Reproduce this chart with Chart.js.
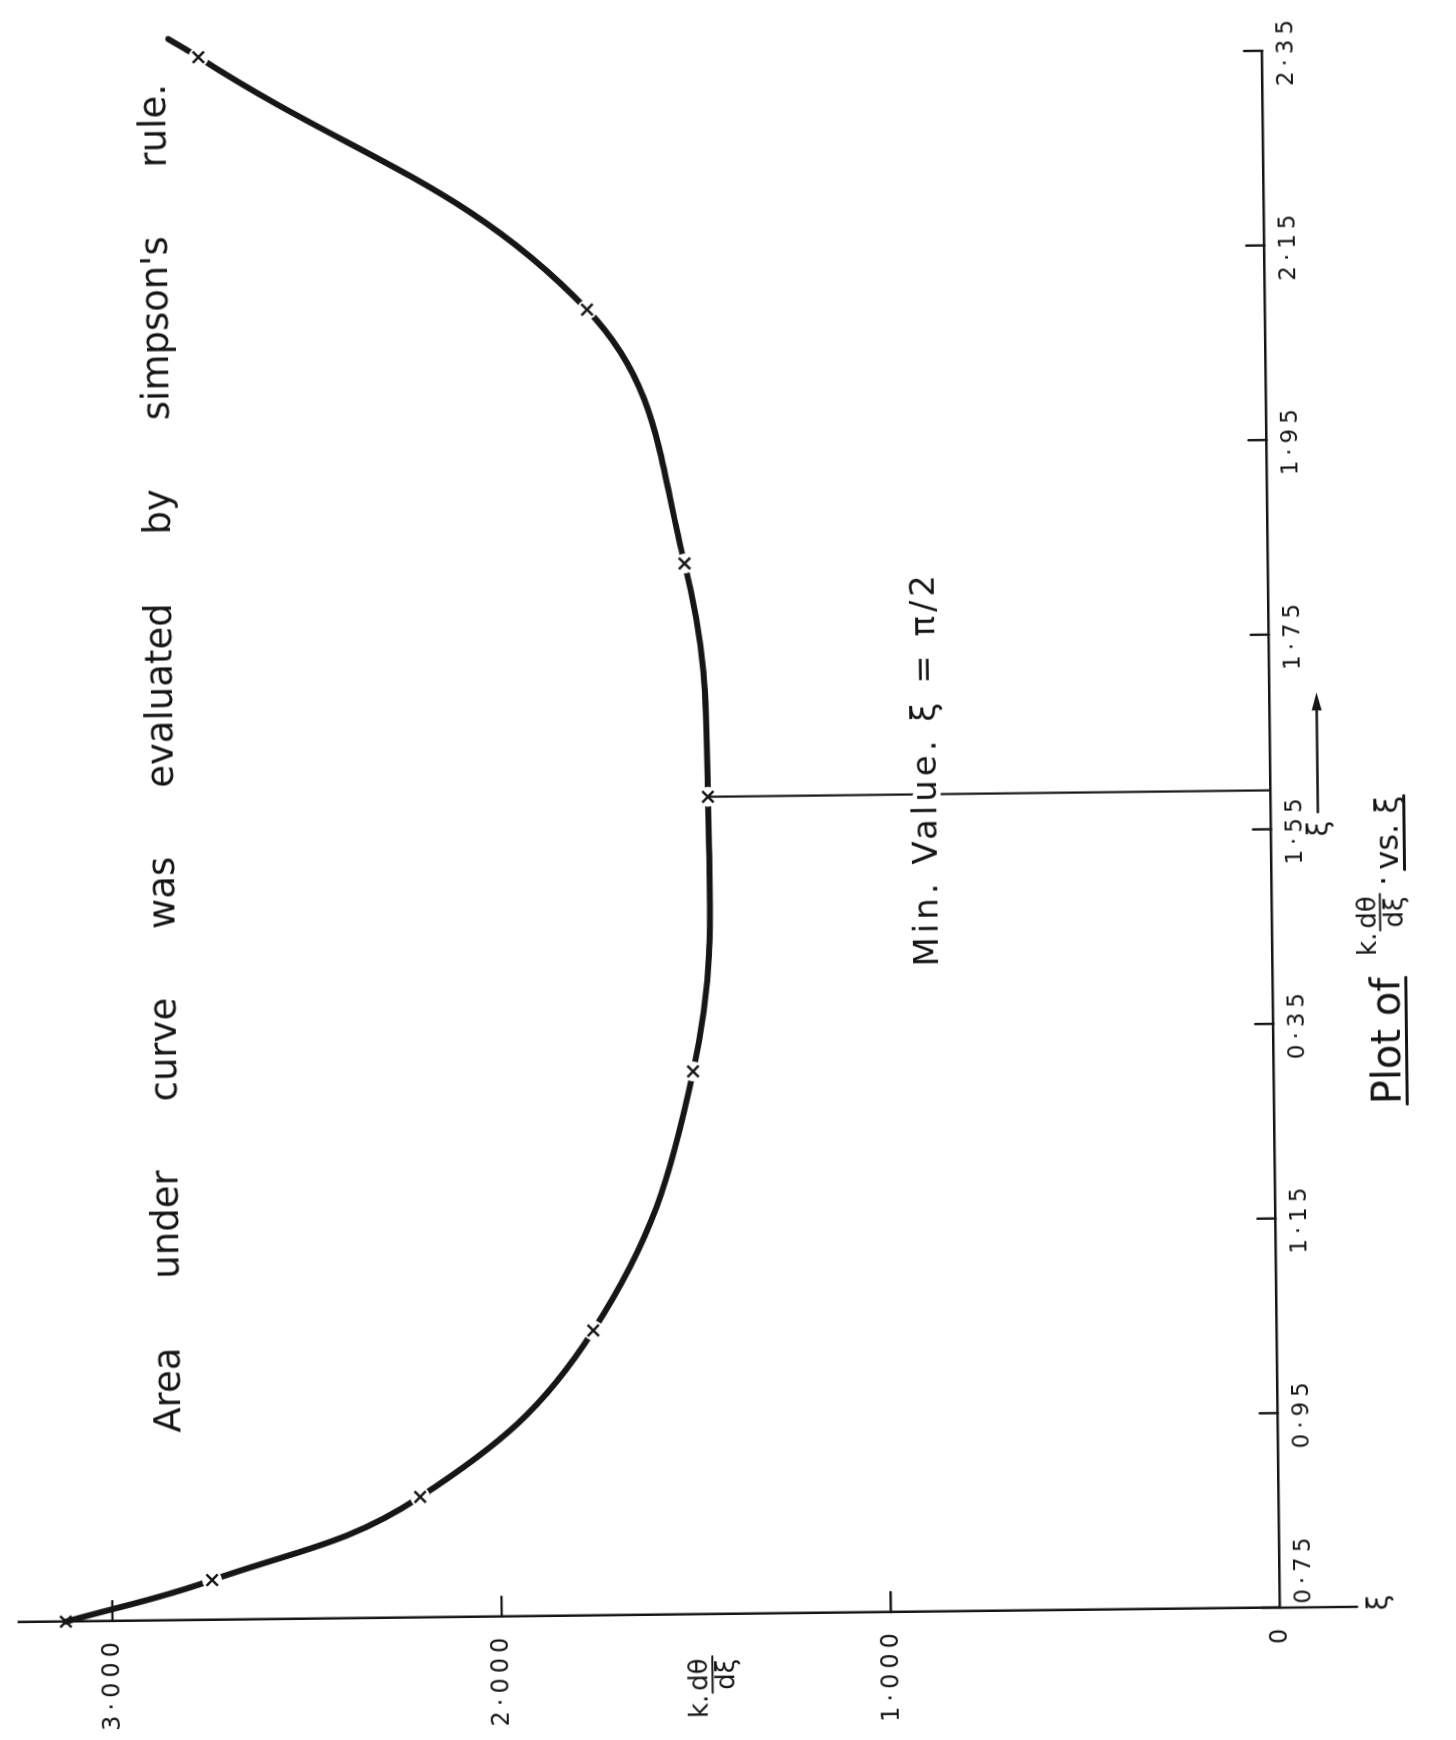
<!DOCTYPE html>
<html>
<head>
<meta charset="utf-8">
<title>Plot of k.dθ/dξ vs. ξ</title>
<script src="https://cdn.jsdelivr.net/npm/chart.js@4.4.1/dist/chart.umd.min.js"></script>
<style>
  html, body { margin:0; padding:0; background:#fff; width:1456px; height:1740px; overflow:hidden; }
  #page { position:absolute; left:-142px; top:142px; width:1740px; height:1456px;
          transform:rotate(-90.66deg); transform-origin:870px 728px; background:#fff; }
  #chart { display:block; }
</style>
</head>
<body>
<div id="page"><canvas id="chart" width="1740" height="1456"></canvas></div>
<script>
// ξ and k·dθ/dξ (last point = end of the pen stroke, no cross)
const xiValues  = [0.75, 0.791, 0.874, 1.043, 1.308, 1.59, 1.83, 2.092, 2.356, 2.375];
const kValues   = [3.12, 2.743, 2.206, 1.756, 1.492, 1.446, 1.499, 1.742, 2.733, 2.81];
const plotted   = [true, true, true, true, true, true, true, true, true, false];
// vertical line from the minimum down to the ξ axis
const minLineXi = [1.59, 1.59];
const minLineK  = [1.446, 0];
// axis ticks as written on the sheet
const xMin = 0.75, xMax = 2.35, yMin = 0, yMax = 3.24;
const xTickValues = [0.75, 0.95, 1.15, 1.35, 1.55, 1.75, 1.95, 2.15, 2.35];
const xTickLabels = ['\u2007\u2007\u2007\u20070·75', '0·95', '1·15', '0·35', '1·55', '1·75', '1·95', '2·15', '2·35'];
const yTickValues = [0, 1, 2, 3];
const yTickLabels = ['0', '1·000', '2·000', '3·000'];
// texts
const noteArea = "Area under curve was evaluated by simpson's rule.";
const noteMin  = 'Min. Value. ξ = π/2';

// where the notes sit, in data units
const areaStartXi = 0.943, areaEndXi = 2.329, areaBaseK = 2.82;
const minNoteXi = 1.413, minNoteK = 0.86;
const titleStartXi = 1.266;
const arrowLabelXi = 1.55, arrowFromXi = 1.567, arrowToXi = 1.69;
const yTitleK = 1.46;

const ink = '#161616';
const FONT = '"DejaVu Sans", "Liberation Sans", sans-serif';

const curvePts  = xiValues.map((v, i) => ({ x: v, y: kValues[i] }));
const markerPts = curvePts.filter((p, i) => plotted[i]);
const gapPts    = markerPts.slice(1);          // first cross sits on the axis line
const minPts    = minLineXi.map((v, i) => ({ x: v, y: minLineK[i] }));

function kFrac(ctx, left, barY, size, draw) {
  ctx.font = size + 'px ' + FONT;
  ctx.textAlign = 'left'; ctx.textBaseline = 'alphabetic';
  const kw = ctx.measureText('k.').width;
  const nw = ctx.measureText('dθ').width, dw = ctx.measureText('dξ').width;
  const fw = Math.max(nw, dw) + 4;
  const fl = left + kw + 2;
  if (draw) {
    ctx.fillText('k.', left, barY - 5);
    ctx.fillText('dθ', fl + (fw - nw) / 2, barY - 5);
    ctx.fillText('dξ', fl + (fw - dw) / 2, barY + size * 0.85);
    ctx.lineWidth = 2.2;
    ctx.beginPath(); ctx.moveTo(fl, barY); ctx.lineTo(fl + fw, barY); ctx.stroke();
  }
  return kw + 2 + fw;
}

const notes = {
  id: 'notes',
  beforeDraw(chart) { chart.ctx.letterSpacing = '5px'; },
  beforeDatasetsDraw(chart) { chart.ctx.letterSpacing = '0px'; },
  afterDraw(chart) {
    const { ctx, chartArea: a, scales: { x, y } } = chart;
    ctx.save();
    ctx.letterSpacing = '0px';
    ctx.strokeStyle = ink; ctx.fillStyle = ink; ctx.lineCap = 'round'; ctx.lineWidth = 2.4;
    const seg = (x1, y1, x2, y2) => { ctx.beginPath(); ctx.moveTo(x1, y1); ctx.lineTo(x2, y2); ctx.stroke(); };

    // tick marks pointing into the plot
    xTickValues.forEach(v => { const px = x.getPixelForValue(v); seg(px, a.bottom, px, a.bottom - 18); });
    yTickValues.forEach(v => { if (v === 0) return; const py = y.getPixelForValue(v); seg(a.left, py, a.left + 20, py); });

    // value axis runs past the origin and ends in ξ
    seg(a.left, a.bottom, a.left, a.bottom + 77);
    ctx.font = '28px ' + FONT; ctx.textAlign = 'center'; ctx.textBaseline = 'middle';
    ctx.fillText('ξ', a.left + 4, a.bottom + 100);

    // note across the top
    ctx.font = '37px ' + FONT; ctx.textAlign = 'left'; ctx.textBaseline = 'alphabetic';
    const words = noteArea.split(' ');
    const ax0 = x.getPixelForValue(areaStartXi), ax1 = x.getPixelForValue(areaEndXi);
    const ws = words.map(w => ctx.measureText(w).width);
    const gap = (ax1 - ax0 - ws.reduce((s, w) => s + w, 0)) / (words.length - 1);
    const ay = y.getPixelForValue(areaBaseK);
    let cx = ax0;
    words.forEach((w, i) => { ctx.fillText(w, cx, ay); cx += ws[i] + gap; });

    // minimum note (breaks the line where it crosses)
    ctx.font = '34px ' + FONT;
    ctx.letterSpacing = '4px';
    const mx = x.getPixelForValue(minNoteXi), my = y.getPixelForValue(minNoteK);
    ctx.save();
    ctx.lineWidth = 9; ctx.strokeStyle = '#fff'; ctx.lineJoin = 'round';
    ctx.strokeText(noteMin, mx, my);
    ctx.restore();
    ctx.fillText(noteMin, mx, my);
    ctx.letterSpacing = '0px';

    // y-axis name, as a fraction among the tick labels
    const fy = y.getPixelForValue(yTitleK);
    const yw = kFrac(ctx, 0, fy, 26, false);
    kFrac(ctx, a.left - 73 - yw / 2, fy, 26, true);

    // ξ with arrow below the axis
    const ry = a.bottom + 47;
    ctx.font = '28px ' + FONT; ctx.textAlign = 'center'; ctx.textBaseline = 'middle';
    ctx.fillText('ξ', x.getPixelForValue(arrowLabelXi), ry + 2);
    ctx.lineWidth = 2.4;
    const t0 = x.getPixelForValue(arrowFromXi), t1 = x.getPixelForValue(arrowToXi);
    seg(t0, ry, t1 - 6, ry);
    ctx.beginPath(); ctx.moveTo(t1, ry); ctx.lineTo(t1 - 18, ry - 5); ctx.lineTo(t1 - 18, ry + 5); ctx.closePath(); ctx.fill();

    // title: Plot of k.dθ/dξ · vs. ξ  (underlined)
    const base = a.bottom + 126;
    let u = x.getPixelForValue(titleStartXi);
    ctx.font = '40px ' + FONT; ctx.textAlign = 'left'; ctx.textBaseline = 'alphabetic';
    const t1w = ctx.measureText('Plot of').width;
    ctx.fillText('Plot of', u, base);
    ctx.lineWidth = 3; seg(u, base + 7, u + t1w, base + 7);
    u += t1w + 22;
    u += kFrac(ctx, u, base - 18, 26, true) + 8;
    ctx.font = '32px ' + FONT;
    ctx.fillText('·', u, base - 4);
    u += ctx.measureText('·').width + 6;
    const t2w = ctx.measureText('vs. ξ').width;
    ctx.fillText('vs. ξ', u, base);
    ctx.lineWidth = 3; seg(u, base + 7, u + t2w, base + 7);

    ctx.restore();
  }
};

new Chart(document.getElementById('chart'), {
  type: 'scatter',
  data: {
    datasets: [
      { label: 'k.dθ/dξ', data: curvePts, showLine: true, tension: 0.4, borderColor: ink, borderWidth: 6,
        borderCapStyle: 'round', pointRadius: 0, clip: false, order: 4 },
      { label: 'gaps', data: gapPts, showLine: false, pointStyle: 'circle', pointRadius: 10,
        pointBackgroundColor: '#fff', pointBorderColor: '#fff', pointBorderWidth: 0, clip: false, order: 3 },
      { label: 'min', data: minPts, showLine: true, tension: 0, borderColor: ink, borderWidth: 2.2,
        pointRadius: 0, clip: false, order: 2 },
      { label: 'points', data: markerPts, showLine: false, pointStyle: 'crossRot', pointRadius: 8,
        pointBorderColor: ink, pointBackgroundColor: ink, pointBorderWidth: 2.5, clip: false, order: 1 }
    ]
  },
  options: {
    responsive: false, animation: false, devicePixelRatio: 1,
    layout: { padding: { top: 6, right: 57, left: 0, bottom: 0 } },
    plugins: { legend: { display: false }, tooltip: { enabled: false } },
    scales: {
      x: {
        type: 'linear', position: 'bottom', bounds: 'data',
        // range set after the data limits so the pen stroke past 2·35 is still drawn
        afterDataLimits: s => { s.min = xMin; s.max = xMax; },
        afterBuildTicks: s => { s.ticks = xTickValues.map(v => ({ value: v })); },
        afterFit: s => { s.height = 184.5; },
        grid: { display: true, drawOnChartArea: false, drawTicks: false },
        border: { display: true, color: ink, width: 2.5 },
        ticks: { color: ink, font: { family: FONT, size: 23 }, padding: 11, maxRotation: 0, autoSkip: false,
                 callback: (v, i) => xTickLabels[i] }
      },
      y: {
        type: 'linear', min: yMin, max: yMax,
        afterBuildTicks: s => { s.ticks = yTickValues.map(v => ({ value: v })); },
        afterFit: s => { s.width = 126; s.paddingTop = 0; s.paddingBottom = 0; },
        grid: { display: true, drawOnChartArea: false, drawTicks: false },
        border: { display: true, color: ink, width: 2.5 },
        ticks: { color: ink, font: { family: FONT, size: 24 }, padding: 16,
                 callback: (v, i) => yTickLabels[i] }
      }
    }
  },
  plugins: [notes]
});
</script>
</body>
</html>
